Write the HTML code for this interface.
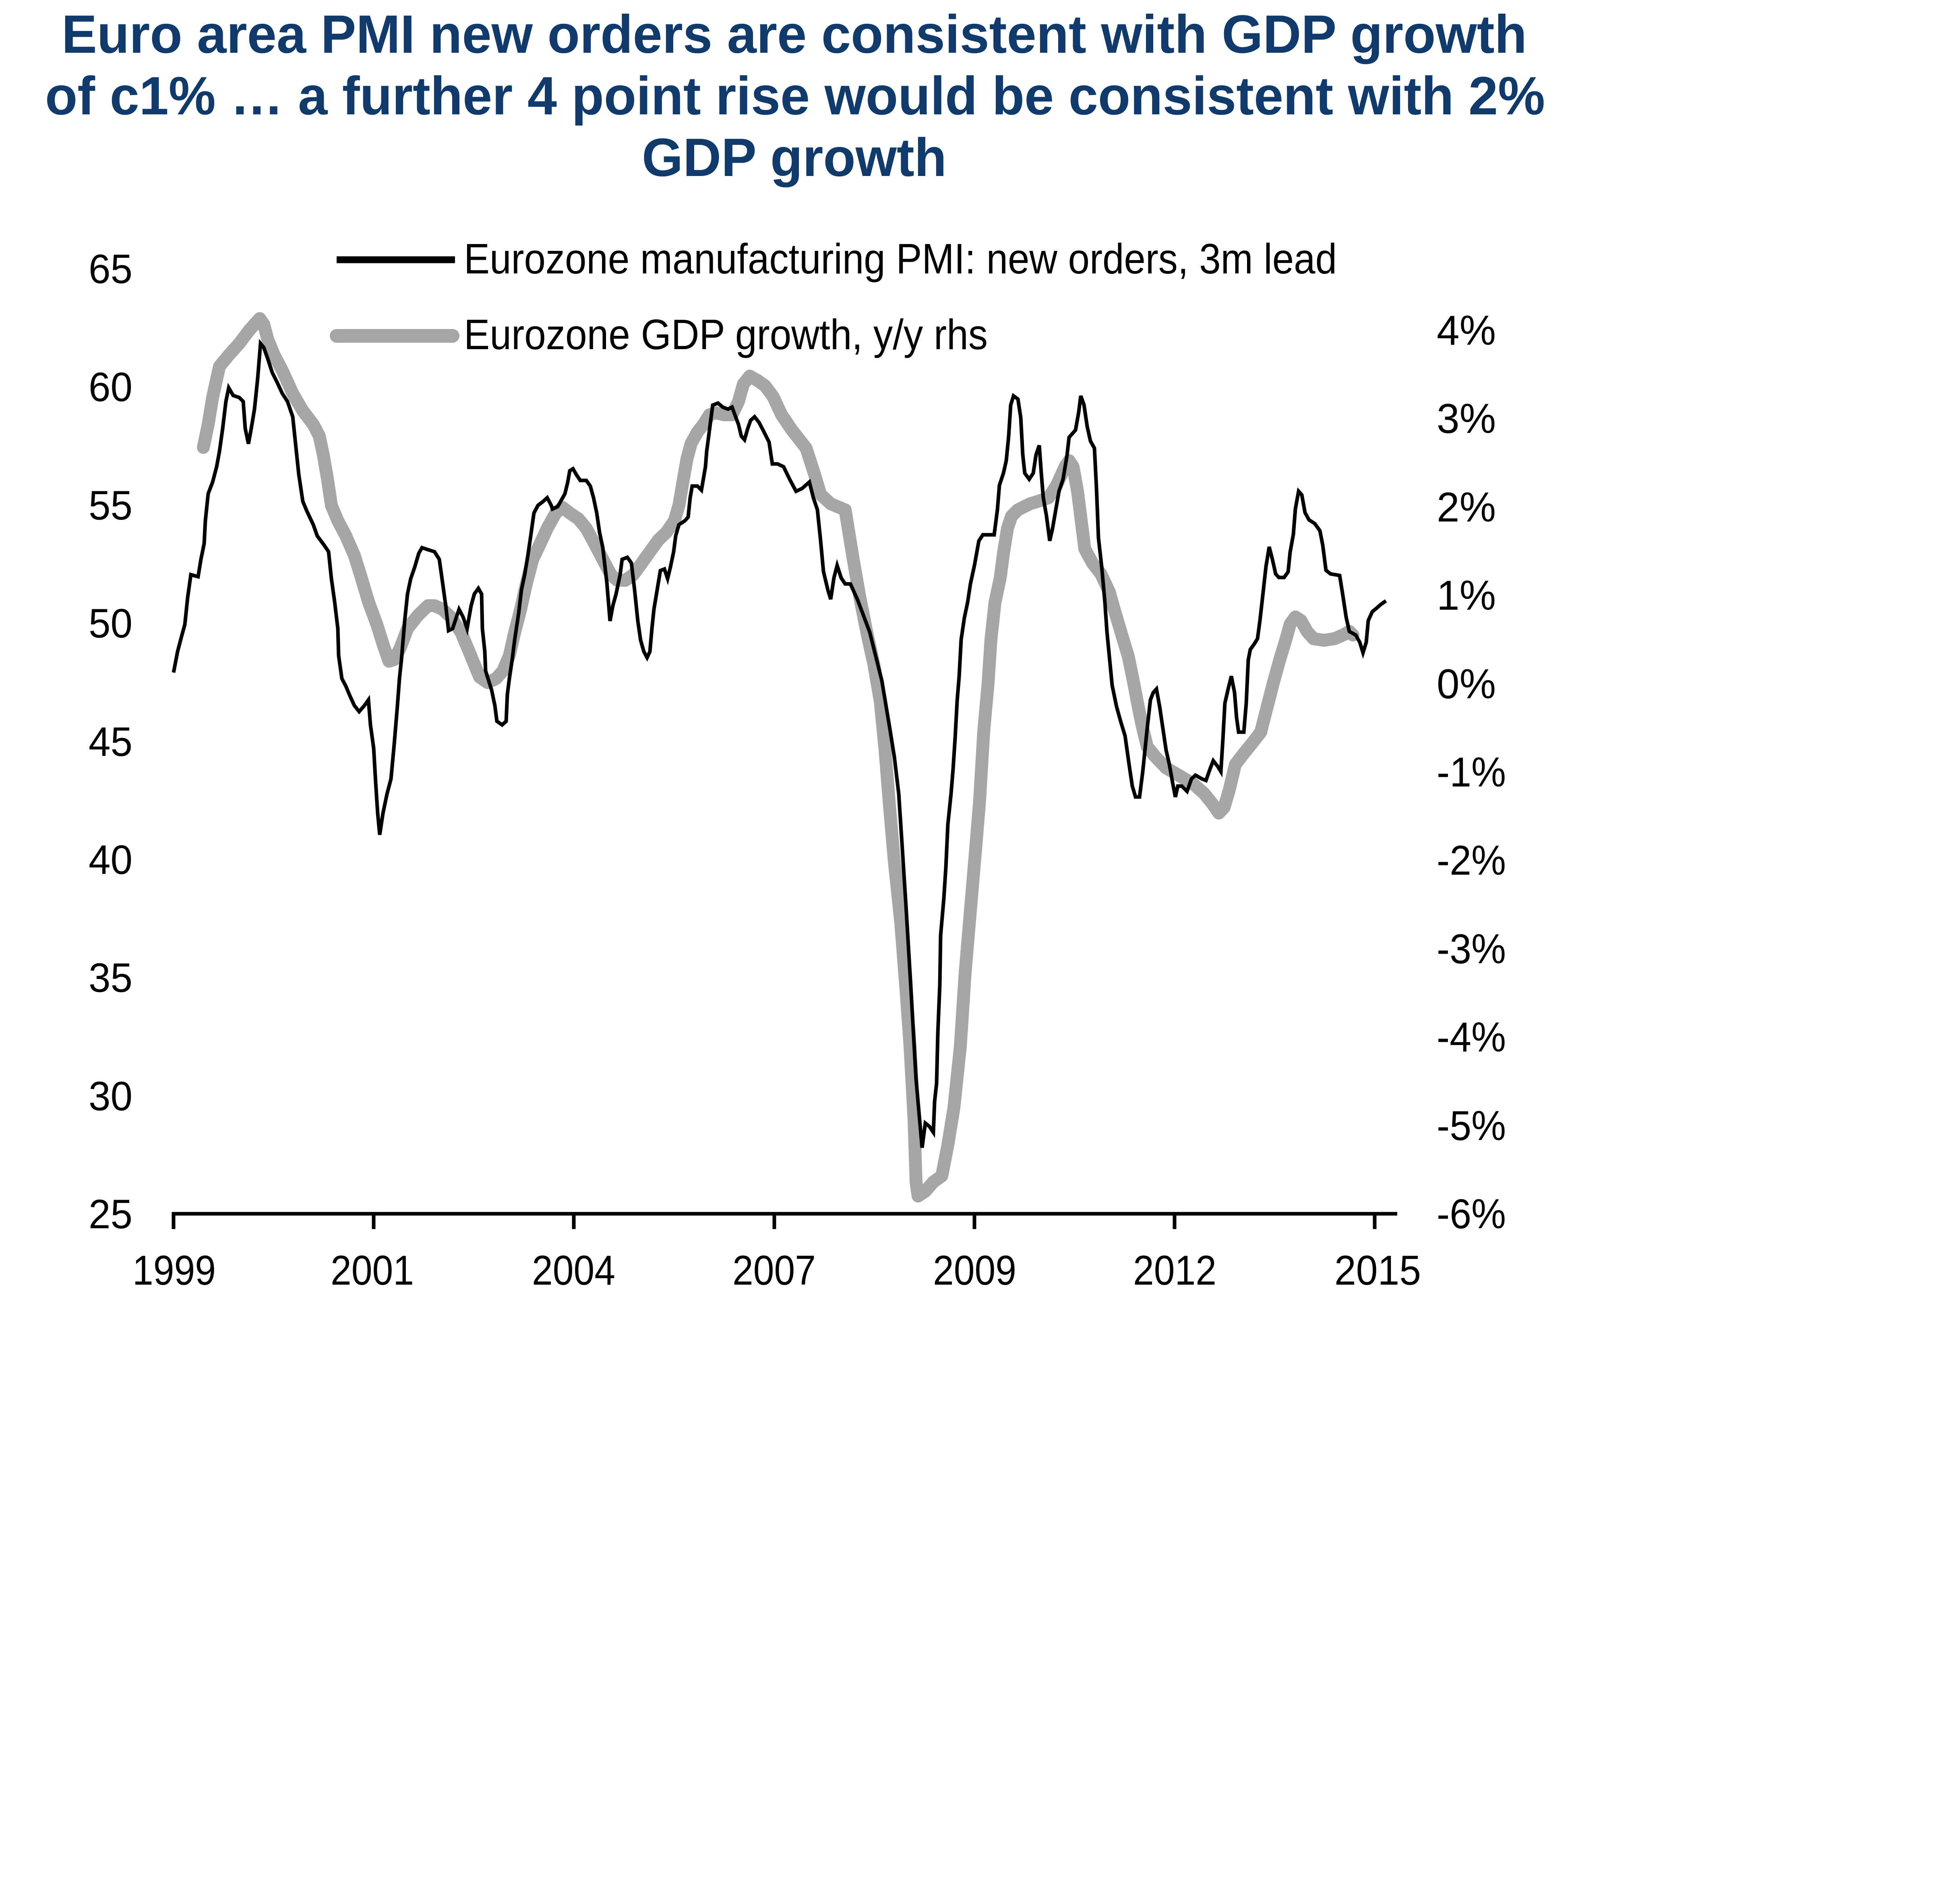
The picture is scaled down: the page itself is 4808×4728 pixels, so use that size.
<!DOCTYPE html>
<html>
<head>
<meta charset="utf-8">
<style>
html,body{margin:0;padding:0;background:#fff;}
svg{display:block;}
text{font-family:"Liberation Sans",Arial,sans-serif;}
</style>
</head>
<body>
<svg width="4808" height="4728" viewBox="0 0 4808 4728" xmlns="http://www.w3.org/2000/svg">
<rect width="4808" height="4728" fill="#fff"/>

<!-- Title -->
<g fill="#0F3A6B" font-weight="bold" font-size="134">
<text x="153" y="131" textLength="3639" lengthAdjust="spacingAndGlyphs">Euro area PMI new orders are consistent with GDP growth</text>
<text x="112" y="284" textLength="3725" lengthAdjust="spacingAndGlyphs">of c1% … a further 4 point rise would be consistent with 2%</text>
<text x="1594" y="437" textLength="757" lengthAdjust="spacingAndGlyphs">GDP growth</text>
</g>

<!-- Legend -->
<line x1="836" y1="645" x2="1130" y2="645" stroke="#000" stroke-width="17"/>
<line x1="836" y1="834" x2="1124" y2="834" stroke="#A6A6A6" stroke-width="34" stroke-linecap="round"/>
<g fill="#000" font-size="106">
<text x="1152" y="679" textLength="2168" lengthAdjust="spacingAndGlyphs">Eurozone manufacturing PMI: new orders, 3m lead</text>
<text x="1152" y="867" textLength="1301" lengthAdjust="spacingAndGlyphs">Eurozone GDP growth, y/y rhs</text>
</g>

<!-- Left axis labels -->
<g fill="#000" font-size="102">
<text x="220" y="703" textLength="109" lengthAdjust="spacingAndGlyphs">65</text>
<text x="220" y="996" textLength="109" lengthAdjust="spacingAndGlyphs">60</text>
<text x="220" y="1290" textLength="109" lengthAdjust="spacingAndGlyphs">55</text>
<text x="220" y="1583" textLength="109" lengthAdjust="spacingAndGlyphs">50</text>
<text x="220" y="1877" textLength="109" lengthAdjust="spacingAndGlyphs">45</text>
<text x="220" y="2170" textLength="109" lengthAdjust="spacingAndGlyphs">40</text>
<text x="220" y="2463" textLength="109" lengthAdjust="spacingAndGlyphs">35</text>
<text x="220" y="2757" textLength="109" lengthAdjust="spacingAndGlyphs">30</text>
<text x="220" y="3050" textLength="109" lengthAdjust="spacingAndGlyphs">25</text>
</g>

<!-- Right axis labels -->
<g fill="#000" font-size="104">
<text x="3568" y="856" textLength="147" lengthAdjust="spacingAndGlyphs">4%</text>
<text x="3568" y="1075" textLength="147" lengthAdjust="spacingAndGlyphs">3%</text>
<text x="3568" y="1295" textLength="147" lengthAdjust="spacingAndGlyphs">2%</text>
<text x="3568" y="1514" textLength="147" lengthAdjust="spacingAndGlyphs">1%</text>
<text x="3568" y="1734" textLength="147" lengthAdjust="spacingAndGlyphs">0%</text>
<text x="3568" y="1953" textLength="172" lengthAdjust="spacingAndGlyphs">-1%</text>
<text x="3568" y="2172" textLength="172" lengthAdjust="spacingAndGlyphs">-2%</text>
<text x="3568" y="2392" textLength="172" lengthAdjust="spacingAndGlyphs">-3%</text>
<text x="3568" y="2611" textLength="172" lengthAdjust="spacingAndGlyphs">-4%</text>
<text x="3568" y="2831" textLength="172" lengthAdjust="spacingAndGlyphs">-5%</text>
<text x="3568" y="3050" textLength="172" lengthAdjust="spacingAndGlyphs">-6%</text>
</g>

<!-- X axis -->
<line x1="427" y1="3014" x2="3470" y2="3014" stroke="#000" stroke-width="9"/>
<g stroke="#000" stroke-width="9">
<line x1="431" y1="3010" x2="431" y2="3052"/>
<line x1="928" y1="3010" x2="928" y2="3052"/>
<line x1="1425" y1="3010" x2="1425" y2="3052"/>
<line x1="1923" y1="3010" x2="1923" y2="3052"/>
<line x1="2420" y1="3010" x2="2420" y2="3052"/>
<line x1="2917" y1="3010" x2="2917" y2="3052"/>
<line x1="3414" y1="3010" x2="3414" y2="3052"/>
</g>
<g fill="#000" font-size="104">
<text x="329" y="3190" textLength="207" lengthAdjust="spacingAndGlyphs">1999</text>
<text x="821" y="3190" textLength="207" lengthAdjust="spacingAndGlyphs">2001</text>
<text x="1321" y="3190" textLength="207" lengthAdjust="spacingAndGlyphs">2004</text>
<text x="1819" y="3190" textLength="207" lengthAdjust="spacingAndGlyphs">2007</text>
<text x="2317" y="3190" textLength="207" lengthAdjust="spacingAndGlyphs">2009</text>
<text x="2814" y="3190" textLength="207" lengthAdjust="spacingAndGlyphs">2012</text>
<text x="3314" y="3190" textLength="215" lengthAdjust="spacingAndGlyphs">2015</text>
</g>

<!-- GDP series (grey, thick) -->
<polyline fill="none" stroke="#A6A6A6" stroke-width="32" stroke-linejoin="round" stroke-linecap="round" points="
505,1111 517,1054 528,987 545,910 568,882 594,853 619,820 645,791 655,805 665,843 681,882 701,920 727,977 752,1020 778,1054 793,1083 803,1130 813,1188 823,1255 839,1293 859,1331 880,1379 895,1427 915,1494 936,1551 951,1599 966,1642 979,1638 994,1609 1012,1561 1038,1528 1063,1504 1079,1504 1099,1513 1119,1532 1145,1570 1170,1630 1191,1681 1211,1695 1232,1685 1249,1666 1265,1628 1278,1571 1293,1513 1308,1446 1323,1389 1341,1351 1359,1312 1380,1274 1397,1260 1415,1274 1436,1288 1456,1312 1477,1351 1497,1389 1517,1427 1533,1441 1553,1441 1573,1427 1594,1398 1614,1370 1635,1341 1655,1322 1675,1293 1686,1255 1696,1197 1706,1140 1716,1102 1732,1073 1747,1054 1762,1030 1778,1025 1798,1030 1818,1030 1834,997 1846,954 1862,934 1880,944 1900,958 1920,985 1941,1030 1966,1067 2002,1113 2022,1175 2038,1228 2063,1251 2099,1266 2109,1328 2119,1389 2135,1481 2153,1572 2170,1649 2186,1741 2198,1863 2209,2001 2221,2139 2237,2292 2249,2445 2260,2598 2270,2782 2275,2935 2280,2970 2298,2958 2318,2935 2339,2920 2354,2843 2369,2751 2385,2598 2397,2414 2410,2261 2423,2108 2433,1986 2443,1817 2454,1695 2461,1588 2471,1496 2484,1435 2492,1374 2502,1312 2512,1282 2528,1266 2558,1251 2584,1243 2604,1236 2624,1205 2645,1159 2655,1144 2665,1159 2676,1220 2694,1363 2713,1398 2734,1425 2755,1470 2770,1523 2786,1577 2802,1630 2815,1693 2825,1746 2836,1800 2849,1854 2870,1880 2896,1907 2927,1925 2964,1947 2990,1970 3011,1996 3027,2019 3040,2005 3053,1961 3068,1898 3089,1871 3110,1845 3131,1818 3147,1755 3163,1693 3178,1639 3194,1586 3204,1550 3217,1532 3231,1541 3246,1568 3262,1586 3288,1590 3314,1586 3335,1577 3351,1568 3360,1577"/>

<!-- PMI series (black, thin) -->
<polyline fill="none" stroke="#000" stroke-width="9" stroke-linejoin="miter" points="
431,1670 441,1618 451,1580 459,1551 466,1484 474,1427 492,1432 499,1389 507,1350 510,1293 517,1226 528,1197 538,1159 545,1121 553,1064 561,997 568,963 579,982 594,987 604,997 609,1064 617,1102 624,1064 632,1016 640,939 647,853 655,863 665,891 676,925 688,949 701,977 714,997 727,1035 734,1102 742,1178 752,1245 762,1269 778,1303 788,1331 803,1351 816,1370 823,1437 831,1494 839,1561 841,1628 849,1685 859,1704 869,1728 880,1752 892,1767 905,1752 915,1738 920,1800 928,1858 933,1944 938,2020 943,2073 951,2020 961,1972 971,1934 979,1848 987,1752 992,1685 997,1638 1005,1542 1012,1475 1020,1437 1030,1408 1040,1374 1048,1360 1063,1365 1079,1370 1091,1389 1099,1446 1107,1504 1114,1566 1124,1561 1140,1513 1150,1532 1160,1561 1170,1504 1178,1475 1188,1461 1196,1475 1198,1561 1204,1618 1206,1666 1221,1714 1229,1752 1234,1791 1247,1800 1257,1791 1260,1724 1265,1685 1272,1638 1278,1590 1288,1523 1295,1465 1303,1427 1311,1379 1318,1331 1326,1274 1336,1255 1349,1245 1359,1236 1369,1255 1372,1264 1385,1258 1403,1226 1410,1197 1415,1169 1423,1164 1431,1178 1441,1193 1456,1193 1466,1207 1474,1236 1482,1274 1489,1322 1497,1360 1507,1446 1515,1542 1522,1504 1530,1475 1540,1427 1545,1389 1558,1384 1568,1398 1576,1465 1584,1542 1591,1590 1599,1618 1607,1633 1614,1618 1619,1561 1624,1513 1632,1465 1640,1417 1650,1413 1658,1437 1665,1408 1673,1370 1678,1331 1686,1303 1701,1293 1709,1284 1714,1236 1719,1207 1732,1207 1742,1217 1747,1188 1752,1159 1755,1121 1760,1083 1765,1044 1770,1006 1783,1001 1795,1011 1808,1016 1818,1011 1834,1054 1841,1083 1849,1092 1857,1064 1864,1044 1874,1035 1885,1049 1895,1068 1905,1088 1910,1098 1918,1152 1931,1152 1946,1159 1961,1190 1977,1220 1992,1213 2010,1197 2020,1236 2030,1266 2038,1343 2045,1419 2056,1465 2063,1488 2071,1435 2079,1404 2089,1435 2099,1450 2112,1450 2130,1490 2160,1570 2190,1690 2210,1810 2221,1879 2232,1971 2239,2078 2250,2250 2262,2450 2275,2680 2284,2782 2290,2850 2298,2789 2308,2797 2318,2812 2321,2736 2326,2690 2329,2567 2334,2445 2336,2323 2344,2231 2349,2154 2354,2047 2362,1970 2367,1909 2372,1833 2377,1741 2382,1680 2387,1588 2395,1534 2403,1496 2410,1450 2420,1404 2431,1343 2441,1328 2456,1328 2469,1328 2477,1266 2482,1205 2492,1175 2499,1144 2505,1083 2510,1006 2517,983 2528,991 2535,1037 2540,1129 2545,1175 2556,1190 2566,1175 2573,1129 2581,1106 2586,1175 2591,1236 2599,1282 2607,1343 2614,1312 2622,1266 2630,1220 2640,1190 2650,1130 2655,1086 2671,1068 2679,1023 2684,983 2692,1005 2700,1059 2708,1095 2718,1113 2723,1211 2728,1336 2736,1407 2744,1496 2749,1568 2755,1630 2762,1702 2773,1755 2783,1791 2794,1827 2804,1898 2812,1952 2820,1979 2830,1979 2838,1916 2849,1809 2857,1738 2864,1720 2872,1711 2880,1755 2888,1809 2896,1863 2904,1898 2912,1943 2919,1979 2925,1952 2935,1952 2948,1965 2959,1934 2969,1925 2985,1934 2995,1938 3006,1907 3013,1889 3024,1903 3032,1916 3037,1836 3042,1746 3050,1711 3058,1679 3066,1720 3071,1782 3076,1818 3089,1818 3095,1746 3100,1639 3105,1613 3115,1599 3123,1586 3129,1541 3136,1479 3144,1407 3152,1358 3160,1389 3168,1425 3176,1434 3189,1434 3199,1420 3204,1371 3212,1327 3217,1264 3225,1220 3233,1229 3241,1273 3251,1291 3265,1300 3278,1318 3285,1354 3293,1416 3304,1425 3327,1429 3335,1479 3343,1532 3351,1568 3367,1577 3377,1595 3385,1621 3393,1595 3398,1541 3408,1519 3419,1510 3429,1501 3442,1492"/>
</svg>
</body>
</html>
